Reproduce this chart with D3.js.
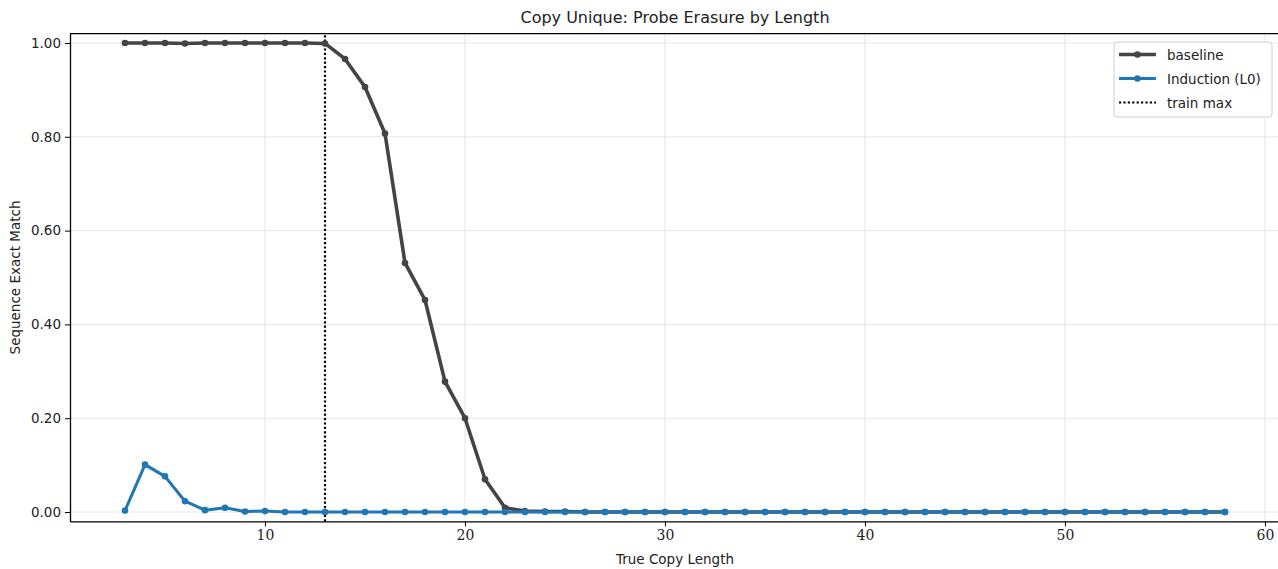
<!DOCTYPE html>
<html>
<head>
<meta charset="utf-8">
<script src="https://cdn.jsdelivr.net/npm/d3@7"></script>
<style>
  body { margin: 0; background: #fff; }
  svg { display: block; }
</style>
</head>
<body>
<div id="chart"></div>
<script>
// data
const lengths = d3.range(3, 59);
const baseline = [1.000, 1.000, 1.000, 0.999, 1.000, 1.000, 1.000, 1.000, 1.000, 1.000, 0.999,
  0.966, 0.906, 0.807, 0.531, 0.452, 0.278, 0.200, 0.070, 0.009, 0.002,
  0.001, 0.001, 0, 0, 0, 0, 0, 0, 0, 0, 0, 0, 0, 0, 0, 0, 0, 0, 0, 0, 0, 0, 0, 0, 0, 0, 0, 0, 0, 0, 0, 0, 0, 0, 0];
const baselineErr = [0, 0, 0, 0.001, 0, 0, 0, 0, 0, 0, 0.001,
  0.004, 0.005, 0.006, 0.008, 0.008, 0.007, 0.006, 0.004, 0.002, 0.001,
  0, 0, 0, 0, 0, 0, 0, 0, 0, 0, 0, 0, 0, 0, 0, 0, 0, 0, 0, 0, 0, 0, 0, 0, 0, 0, 0, 0, 0, 0, 0, 0, 0, 0, 0];
const induction = [0.003, 0.101, 0.076, 0.023, 0.004, 0.009, 0.001, 0.002, 0.000, 0.000, 0,
  0, 0, 0, 0, 0, 0, 0, 0, 0, 0, 0, 0, 0, 0, 0, 0, 0, 0, 0, 0, 0, 0, 0, 0, 0, 0, 0, 0, 0, 0, 0, 0, 0, 0, 0, 0, 0, 0, 0, 0, 0, 0, 0, 0, 0];
const inductionErr = [0.001, 0.005, 0.004, 0.003, 0.001, 0.001, 0, 0, 0, 0, 0,
  0, 0, 0, 0, 0, 0, 0, 0, 0, 0, 0, 0, 0, 0, 0, 0, 0, 0, 0, 0, 0, 0, 0, 0, 0, 0, 0, 0, 0, 0, 0, 0, 0, 0, 0, 0, 0, 0, 0, 0, 0, 0, 0, 0, 0];
const trainMax = 13;
const xTicks = [10, 20, 30, 40, 50, 60];
const yTicks = [0, 0.2, 0.4, 0.6, 0.8, 1.0];

const W = 1278, H = 569;
const m = { left: 70, right: -2, top: 33.6, bottom: 47.6 };

const svg = d3.select("#chart").append("svg")
  .attr("width", W)
  .attr("height", H);

const x = d3.scaleLinear().domain([0.25, 60.75]).range([m.left, W - m.right]);
const y = d3.scaleLinear().domain([-0.02, 1.02]).range([H - m.bottom, m.top]);

// grid
const grid = svg.append("g");
grid.selectAll(".gx").data(xTicks).enter().append("line")
  .attr("x1", d => x(d)).attr("x2", d => x(d))
  .attr("y1", y.range()[0]).attr("y2", y.range()[1])
  .attr("stroke", "#e6e6e6").attr("stroke-width", 1);
grid.selectAll(".gy").data(yTicks).enter().append("line")
  .attr("x1", x.range()[0]).attr("x2", x.range()[1])
  .attr("y1", d => y(d)).attr("y2", d => y(d))
  .attr("stroke", "#e6e6e6").attr("stroke-width", 1);

// series
const series = [
  { name: "baseline", vals: baseline, err: baselineErr, color: "#444444", width: 3.6 },
  { name: "Induction (L0)", vals: induction, err: inductionErr, color: "#1f77b4", width: 3 }
];

const line = d3.line().x(d => x(d[0])).y(d => y(d[1]));
const area = d3.area().x(d => x(d[0])).y0(d => y(d[1] - d[2])).y1(d => y(d[1] + d[2]));

// train max line
svg.append("line")
  .attr("x1", x(trainMax)).attr("x2", x(trainMax))
  .attr("y1", y.range()[0]).attr("y2", y.range()[1])
  .attr("stroke", "#000").attr("stroke-width", 2.2)
  .attr("stroke-dasharray", "2.2,2.2");

series.forEach(s => {
  const pts = lengths.map((l, i) => [l, s.vals[i], s.err[i]]);
  svg.append("path").datum(pts)
    .attr("d", area)
    .attr("fill", s.color).attr("opacity", 0.15);
  svg.append("path").datum(pts)
    .attr("d", line)
    .attr("fill", "none")
    .attr("stroke", s.color)
    .attr("stroke-width", s.width)
    .attr("stroke-linejoin", "round");
  svg.append("g").selectAll("circle").data(pts).enter().append("circle")
    .attr("cx", d => x(d[0]))
    .attr("cy", d => y(d[1]))
    .attr("r", 3.3)
    .attr("fill", s.color);
});

// axes
const xAxis = svg.append("g")
  .attr("transform", `translate(0,${y.range()[0]})`)
  .call(d3.axisBottom(x).tickValues(xTicks).tickSize(5).tickSizeOuter(0).tickPadding(4));
xAxis.select(".domain").attr("stroke-width", 1.3);
xAxis.selectAll("text")
  .attr("font-family", "'DejaVu Serif', serif")
  .attr("font-size", 14)
  .attr("fill", "#222");

const yAxis = svg.append("g")
  .attr("transform", `translate(${x.range()[0]},0)`)
  .call(d3.axisLeft(y).tickValues(yTicks).tickFormat(d3.format(".2f")).tickSize(5).tickSizeOuter(0).tickPadding(4));
yAxis.select(".domain").attr("stroke-width", 1.3);
yAxis.selectAll("text")
  .attr("font-family", "'DejaVu Sans', sans-serif")
  .attr("font-size", 13.5)
  .attr("fill", "#222");

// top spine
svg.append("line")
  .attr("x1", x.range()[0]).attr("x2", W)
  .attr("y1", y.range()[1]).attr("y2", y.range()[1])
  .attr("stroke", "#000").attr("stroke-width", 1.3);

// title and labels
svg.append("text")
  .attr("x", 675).attr("y", 23)
  .attr("text-anchor", "middle")
  .attr("font-family", "'DejaVu Sans', sans-serif")
  .attr("font-size", 16)
  .attr("fill", "#222")
  .text("Copy Unique: Probe Erasure by Length");

svg.append("text")
  .attr("x", 675).attr("y", 564)
  .attr("text-anchor", "middle")
  .attr("font-family", "'DejaVu Sans', sans-serif")
  .attr("font-size", 13.5)
  .attr("fill", "#222")
  .text("True Copy Length");

svg.append("text")
  .attr("transform", `translate(20,${(y.range()[0] + y.range()[1]) / 2}) rotate(-90)`)
  .attr("text-anchor", "middle")
  .attr("font-family", "'DejaVu Sans', sans-serif")
  .attr("font-size", 13.5)
  .attr("fill", "#222")
  .text("Sequence Exact Match");

// legend
const lg = svg.append("g").attr("transform", "translate(1114,42)");
lg.append("rect")
  .attr("width", 158).attr("height", 75)
  .attr("rx", 3)
  .attr("fill", "#fff").attr("fill-opacity", 0.85)
  .attr("stroke", "#d0d0d0");
const items = [
  { label: "baseline", color: "#444444", width: 3.6, dot: true, dash: null },
  { label: "Induction (L0)", color: "#1f77b4", width: 3, dot: true, dash: null },
  { label: "train max", color: "#000", width: 2.2, dot: false, dash: "2.2,2.2" }
];
items.forEach((it, i) => {
  const cy = 12.5 + i * 24;
  lg.append("line")
    .attr("x1", 5).attr("x2", 42).attr("y1", cy).attr("y2", cy)
    .attr("stroke", it.color).attr("stroke-width", it.width)
    .attr("stroke-dasharray", it.dash);
  if (it.dot) {
    lg.append("circle").attr("cx", 23.5).attr("cy", cy).attr("r", 3.3).attr("fill", it.color);
  }
  lg.append("text")
    .attr("x", 53).attr("y", cy + 5)
    .attr("font-family", "'DejaVu Sans', sans-serif")
    .attr("font-size", 13.5)
    .attr("fill", "#222")
    .text(it.label);
});
</script>
</body>
</html>
